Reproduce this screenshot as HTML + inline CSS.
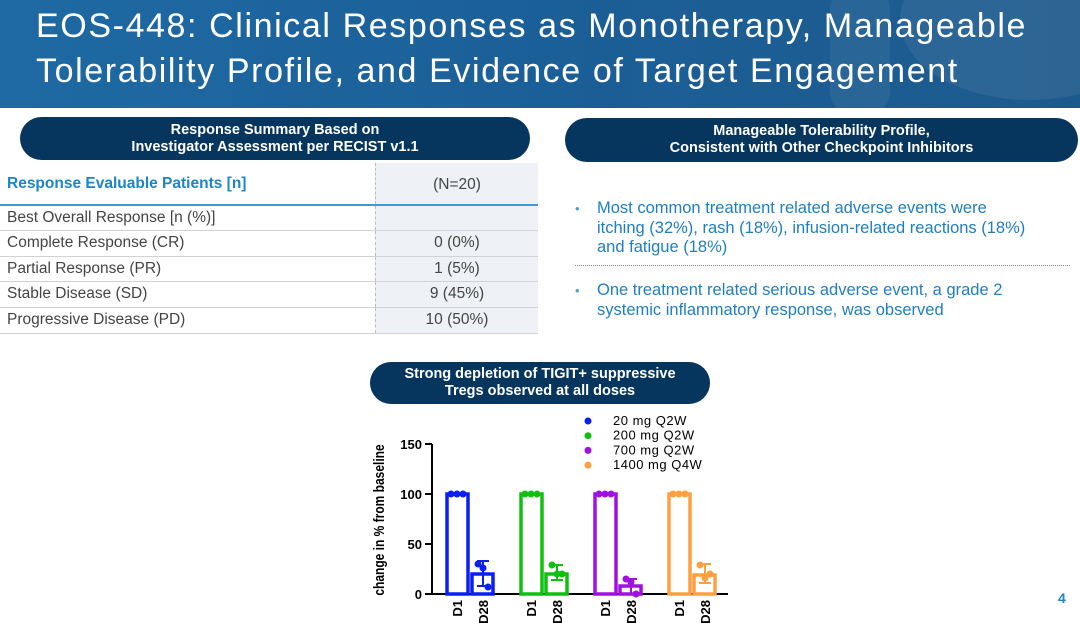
<!DOCTYPE html>
<html><head><meta charset="utf-8"><style>
*{margin:0;padding:0;box-sizing:border-box}
body{width:1080px;height:623px;overflow:hidden;background:#fff;font-family:"Liberation Sans",sans-serif;position:relative}
.hdr{position:absolute;left:0;top:0;width:1080px;height:108px;background:linear-gradient(90deg,#1f6aa4,#1b5f98 50%,#1d5a8c);overflow:hidden}
.hdr .c1{position:absolute;left:900px;top:-60px;width:260px;height:160px;border-radius:50%;background:rgba(255,255,255,0.07)}
.hdr .c2{position:absolute;left:830px;top:-20px;width:60px;height:140px;border-radius:30px;background:rgba(255,255,255,0.06)}
.hdr h1{position:absolute;left:36px;top:4px;font-weight:normal;color:#fff;font-size:34px;line-height:45px;letter-spacing:1.6px;white-space:nowrap}
.pill{position:absolute;background:#06365e;color:#fff;border-radius:24px;font-weight:bold;text-align:center;font-size:14.5px;line-height:17px;display:flex;align-items:center;justify-content:center;flex-direction:column}
.row{position:absolute;left:0;width:538px;border-bottom:1px solid #cfd3d8;font-size:15.5px;color:#444}
.row .l{position:absolute;left:7px;top:3px}
.row .r{position:absolute;left:375px;width:163px;top:0;bottom:0;background:#eef1f5;border-left:1px dashed #bbb;text-align:center;padding-top:3px}
.bul{position:absolute;left:575px;width:476px;color:#1f7fbf;font-size:16.5px;line-height:19.5px;padding-left:22px}
.bul:before{content:"•";position:absolute;left:0;color:#4aa0d8;font-size:13px}
</style></head><body>
<div class="hdr"><div class="c1"></div><div class="c2"></div><h1>EOS-448: Clinical Responses as Monotherapy, Manageable<br>Tolerability Profile, and Evidence of Target Engagement</h1></div>

<div class="pill" style="left:20px;top:117px;width:510px;height:43px"><div>Response Summary Based on</div><div>Investigator Assessment per RECIST v1.1</div></div>

<div class="row" style="top:163px;height:43px;border-bottom:2px solid #3a9bd6"><span class="l" style="top:12px;color:#1a86c8;font-weight:bold;font-size:15.5px">Response Evaluable Patients [n]</span><span class="r" style="padding-top:13px">(N=20)</span></div>
<div class="row" style="top:206px;height:25px"><span class="l">Best Overall Response [n (%)]</span><span class="r"></span></div>
<div class="row" style="top:231px;height:26px"><span class="l">Complete Response (CR)</span><span class="r">0 (0%)</span></div>
<div class="row" style="top:257px;height:25px"><span class="l">Partial Response (PR)</span><span class="r">1 (5%)</span></div>
<div class="row" style="top:282px;height:26px"><span class="l">Stable Disease (SD)</span><span class="r">9 (45%)</span></div>
<div class="row" style="top:308px;height:26px"><span class="l">Progressive Disease (PD)</span><span class="r">10 (50%)</span></div>

<div class="pill" style="left:565px;top:118px;width:513px;height:44px"><div>Manageable Tolerability Profile,</div><div>Consistent with Other Checkpoint Inhibitors</div></div>
<div class="bul" style="top:199px">Most common treatment related adverse events were<br>itching (32%), rash (18%), infusion-related reactions (18%)<br>and fatigue (18%)</div>
<div style="position:absolute;left:575px;top:265px;width:495px;border-top:1px dotted #888"></div>
<div class="bul" style="top:281px;width:430px">One treatment related serious adverse event, a grade 2 systemic inflammatory response, was observed</div>

<div class="pill" style="left:370px;top:362px;width:340px;height:42px"><div>Strong depletion of TIGIT+ suppressive</div><div>Tregs observed at all doses</div></div>

<div style="position:absolute;left:1058px;top:590px;color:#1a86c8;font-weight:bold;font-size:14px">4</div>

<svg id="chart" style="position:absolute;left:0;top:0" width="1080" height="623"></svg>
<script>
const groups=["20 mg  Q2W","200 mg Q2W","700 mg Q2W","1400 mg Q4W"];
const colors=["#0a1ff0","#10c010","#a010e0","#ffa040"];
const d1Values=[100,100,100,100];
const d28Values=[20,20,8,19];
const errLow=[8,14,0,11];
const errHigh=[33,29,15,30];
const d28Points=[[30,26,7],[29,20,20],[15,12,0],[29,16,20]];
const yTicks=[0,50,100,150];
const NS="http://www.w3.org/2000/svg";
const svg=document.getElementById('chart');
const y=v=>594-v*1.0;
const gx=i=>446+i*74;
function mk(t,a){const e=document.createElementNS(NS,t);for(const k in a)e.setAttribute(k,a[k]);svg.appendChild(e);return e;}
let e=mk('line',{x1:432,y1:444,x2:432,y2:594,stroke:'#000','stroke-width':2});

e=mk('line',{x1:431,y1:594,x2:728,y2:594,stroke:'#000','stroke-width':2});

yTicks.forEach(t=>{
 mk('line',{x1:425,y1:y(t),x2:432,y2:y(t),stroke:'#000','stroke-width':2});
 e=mk('text',{x:422,y:y(t)+5,'text-anchor':'end','font-size':13,'font-weight':'bold','font-family':'Liberation Sans'});
 e.textContent=t;
});
e=mk('text',{x:0,y:0,'font-size':15,'font-weight':'bold','font-family':'Liberation Sans','text-anchor':'middle',transform:'translate(384,520) rotate(-90) scale(0.8,1)'});
e.textContent='change in % from baseline';
groups.forEach((g,i)=>{
 const c=colors[i],x0=gx(i),x1=x0+26;
 e=mk('rect',{x:x0+1,y:y(d1Values[i]),width:21,height:594-y(d1Values[i]),fill:'none',stroke:c,'stroke-width':3.5});
 
 [5,11,17].forEach(dx=>mk('circle',{cx:x0+dx,cy:y(d1Values[i]),r:3.5,fill:c}));
 e=mk('rect',{x:x1,y:y(d28Values[i]),width:21,height:594-y(d28Values[i]),fill:'none',stroke:c,'stroke-width':3.5});
 
 mk('line',{x1:x1+11,y1:y(errLow[i]),x2:x1+11,y2:y(errHigh[i]),stroke:c,'stroke-width':2});
 mk('line',{x1:x1+5,y1:y(errHigh[i]),x2:x1+17,y2:y(errHigh[i]),stroke:c,'stroke-width':2});
 mk('line',{x1:x1+5,y1:y(errLow[i]),x2:x1+17,y2:y(errLow[i]),stroke:c,'stroke-width':2});
 d28Points[i].forEach((p,j)=>{e=mk('circle',{cx:x1+6+j*5,cy:y(p),r:3.5,fill:c});});
 ['D1','D28'].forEach((lab,k)=>{
  e=mk('text',{x:0,y:0,'font-size':13,'font-weight':'bold','font-family':'Liberation Sans','text-anchor':'end',transform:`translate(${x0+11+k*26+5},600) rotate(-90)`});
  e.textContent=lab;
 });
 e=mk('circle',{cx:588,cy:421+i*14.7,r:3.5,fill:c});
 
 e=mk('text',{x:613,y:425+i*14.7,'font-size':13,'font-family':'Liberation Sans','letter-spacing':'0.5'});
 e.textContent=g;
});
</script>
</body></html>
